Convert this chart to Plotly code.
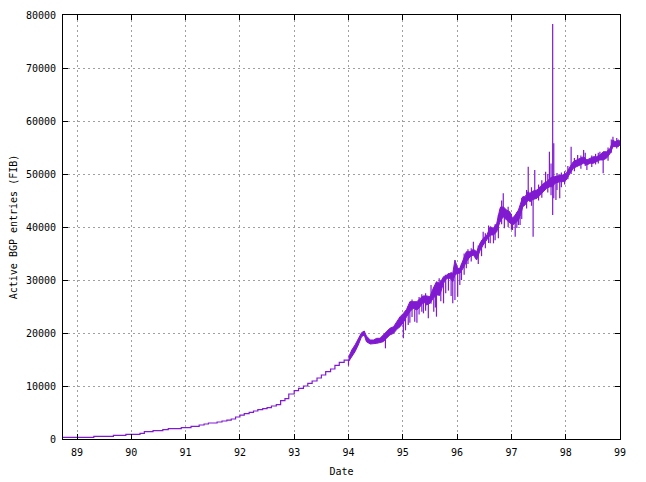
import plotly.graph_objects as go

# ---- data (decimal years, active BGP entries) ----
step_x = [88.60, 89.31, 89.67, 89.90, 90.16, 90.24, 90.40, 90.58, 90.68, 90.92,
          91.10, 91.25, 91.34, 91.42, 91.58, 91.67, 91.76, 91.84, 91.92, 92.00,
          92.08, 92.17, 92.25, 92.33, 92.42, 92.50, 92.58, 92.67, 92.75, 92.83,
          92.90, 93.00, 93.08, 93.17, 93.25, 93.33, 93.42, 93.50, 93.58, 93.67,
          93.75, 93.83, 93.92, 94.00]
step_y = [300, 500, 700, 880, 1070, 1380, 1570, 1760, 1950, 2140,
          2390, 2640, 2830, 3020, 3210, 3400, 3580, 3770, 4150, 4500,
          4780, 5030, 5280, 5530, 5720, 5910, 6230, 6480, 7230, 7600,
          8490, 9120, 9560, 10000, 10500, 10940, 11510, 12080, 12700, 13210,
          13900, 14470, 14900, 14900]

band_x = [94.00, 94.06, 94.12, 94.18, 94.24, 94.29, 94.33, 94.40, 94.46, 94.52,
          94.58, 94.64, 94.70, 94.76, 94.83, 94.89, 94.95, 95.01, 95.07, 95.13,
          95.19, 95.26, 95.32, 95.38, 95.44, 95.50, 95.56, 95.62, 95.68, 95.75,
          95.81, 95.87, 95.92, 95.96, 96.01, 96.05, 96.11, 96.17, 96.24, 96.30,
          96.36, 96.42, 96.48, 96.55, 96.61, 96.67, 96.73, 96.79, 96.85, 96.91,
          96.97, 97.02, 97.07, 97.13, 97.16, 97.21, 97.25, 97.31, 97.34, 97.40,
          97.47, 97.53, 97.59, 97.65, 97.71, 97.76, 97.80, 97.86, 97.89, 97.95,
          98.01, 98.08, 98.14, 98.20, 98.26, 98.33, 98.39, 98.45, 98.51, 98.57,
          98.63, 98.69, 98.75, 98.82, 98.87, 98.91, 98.97, 99.00]
band_lo = [14590, 15530, 16470, 17740, 19300, 19620, 18360, 17920, 17920, 18050,
           18200, 18360, 19000, 19620, 19940, 20690, 21190, 22000, 23080, 24020,
           24650, 24340, 24960, 25900, 25300, 25600, 26540, 27170, 27170, 29370,
           30320, 30320, 29680, 30940, 31260, 31260, 32200, 33450, 34400, 34700,
           33770, 35500, 36600, 37550, 38490, 38490, 39110, 41000, 41940, 41320,
           40700, 40380, 40700, 41320, 41940, 43830, 44150, 45090, 44780, 45200,
           45410, 46040, 46660, 47300, 47600, 47600, 48230, 48400, 48550, 48550,
           48870, 50130, 51070, 51380, 51700, 52020, 51700, 52020, 52020, 52330,
           52650, 52650, 52960, 53900, 55160, 55160, 55160, 55500]
band_hi = [15410, 16790, 17740, 18810, 20060, 20380, 19430, 18680, 18680, 19000,
           19000, 19620, 20250, 20880, 21190, 22130, 23080, 23700, 24470, 25910,
           25910, 25910, 26540, 27000, 27000, 26850, 28430, 29680, 29360, 30630,
           30940, 31260, 31260, 33770, 32200, 32200, 33770, 35340, 35340, 35800,
           35340, 36920, 37860, 38490, 40060, 39750, 40700, 43530, 43830, 43210,
           42890, 41640, 42260, 43210, 44150, 45720, 45720, 46660, 46350, 46800,
           46980, 47600, 48230, 48550, 49180, 49500, 49490, 49650, 49800, 49810,
           50130, 51380, 52330, 52650, 52960, 53270, 52650, 52960, 53270, 53270,
           53580, 54200, 54200, 54850, 56420, 56100, 56420, 56200]

spike_x = [94.00, 94.68, 95.01, 95.05, 95.10, 95.13, 95.17, 95.22, 95.26, 95.30,
           95.35, 95.38, 95.42, 95.47, 95.52, 95.57, 95.60, 95.62, 95.67, 95.70,
           95.75, 95.79, 95.84, 95.89, 95.92, 95.96, 96.01, 96.05, 96.08, 96.13,
           96.17, 96.20, 96.26, 96.30, 96.39, 96.45, 96.48, 96.52, 96.58, 96.61,
           96.67, 96.70, 96.76, 96.80, 96.82, 96.85, 96.87, 96.94, 97.00, 97.02,
           97.07, 97.10, 97.13, 97.16, 97.19, 97.28, 97.31, 97.37, 97.40, 97.43,
           97.50, 97.56, 97.63, 97.67, 97.70, 97.73, 97.76, 97.78, 97.82, 97.84,
           97.89, 97.92, 97.98, 98.04, 98.10, 98.16, 98.22, 98.28, 98.33, 98.36,
           98.39, 98.48, 98.55, 98.60, 98.63, 98.69, 98.78, 98.84, 98.87, 98.94]
spike_lo = [13830, 17110, 19000, 20500, 21500, 21940, 23000, 22130, 21940, 23500,
            24000, 23710, 24200, 22770, 25500, 24000, 24800, 23080, 27000, 26000,
            25600, 27500, 28000, 27000, 25600, 26230, 26850, 29060, 30000, 31000,
            32200, 33000, 33500, 35000, 33000, 34500, 36600, 36000, 37000, 36920,
            36920, 37500, 37860, 41000, 40500, 42000, 39750, 40000, 39500, 39430,
            38170, 39800, 40380, 40380, 41500, 43500, 45000, 44000, 38170, 45500,
            45000, 45500, 47500, 46500, 49000, 46000, 42260, 45410, 45090, 47000,
            45410, 47500, 48000, 49000, 50000, 50500, 51500, 51000, 52500, 51500,
            50750, 51300, 51800, 52000, 53000, 50130, 52500, 54000, 55500, 54800]
spike_hi = [15000, 19000, 22500, 23500, 25000, 24500, 26300, 24500, 24500, 26800,
            27300, 26000, 27500, 25500, 29060, 28500, 29000, 27500, 30320, 30000,
            29500, 31000, 31300, 31500, 30000, 31000, 31500, 31500, 33000, 35000,
            34000, 35800, 36000, 37230, 36500, 37500, 39110, 38800, 40300, 39000,
            39000, 40500, 42260, 43830, 45000, 46360, 42000, 43800, 42500, 41000,
            41000, 42800, 42000, 42000, 45500, 47000, 51380, 47500, 45500, 50750,
            48000, 48800, 50440, 50000, 54200, 52000, 78300, 55790, 48500, 50200,
            48500, 50300, 50500, 51500, 55160, 53000, 53580, 53500, 54530, 54000,
            52500, 53500, 53800, 54000, 54200, 53000, 55000, 56500, 57040, 56800]

x_ticks = [89, 90, 91, 92, 93, 94, 95, 96, 97, 98, 99]
y_ticks = [0, 10000, 20000, 30000, 40000, 50000, 60000, 70000, 80000]

COLOR = "#801ad0"
FONT = dict(family="DejaVu Sans Mono", size=10, color="black")

fig = go.Figure()
fig.add_trace(go.Scatter(x=step_x, y=step_y, mode="lines", line_shape="hv",
                         line=dict(color=COLOR, width=1.2), showlegend=False,
                         hoverinfo="skip"))
fig.add_trace(go.Scatter(x=band_x, y=band_lo, mode="lines",
                         line=dict(color=COLOR, width=1), showlegend=False,
                         hoverinfo="skip"))
fig.add_trace(go.Scatter(x=band_x, y=band_hi, mode="lines", fill="tonexty",
                         fillcolor=COLOR, line=dict(color=COLOR, width=1),
                         showlegend=False, hoverinfo="skip"))

sx, sy = [], []
for x, lo, hi in zip(spike_x, spike_lo, spike_hi):
    sx += [x, x, None]
    sy += [lo, hi, None]
fig.add_trace(go.Scatter(x=sx, y=sy, mode="lines",
                         line=dict(color=COLOR, width=1.2), showlegend=False,
                         hoverinfo="skip"))

axis_common = dict(
    showline=True, linecolor="black", linewidth=1, mirror="ticks",
    ticks="inside", ticklen=5, tickcolor="black", tickwidth=1,
    showgrid=True, gridcolor="#a0a0a0", gridwidth=1, griddash="2px,3px",
    zeroline=False, tickfont=FONT,
)

# page body has an 8px default margin, so the figure is sized/offset to compensate
fig.update_layout(
    width=638, height=474,
    margin=dict(l=55, r=26, t=7, b=43),
    paper_bgcolor="white", plot_bgcolor="white",
    font=FONT,
    xaxis=dict(range=[88.742, 99], tickvals=x_ticks,
               ticktext=[str(v) for v in x_ticks],
               title=dict(text="Date", font=FONT, standoff=10),
               automargin=False, ticklabelstandoff=4, **axis_common),
    yaxis=dict(range=[0, 80000], tickvals=y_ticks,
               ticktext=[str(v) for v in y_ticks],
               title=dict(text="Active BGP entries (FIB)", font=FONT, standoff=6),
               automargin=False, ticklabelstandoff=4, **axis_common),
)

fig.write_html("out.html")
